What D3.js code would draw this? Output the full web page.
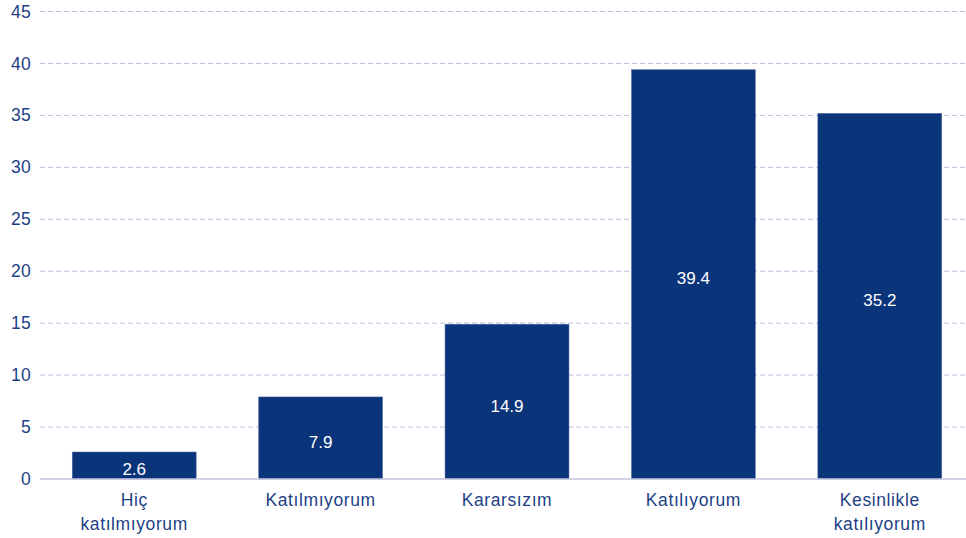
<!DOCTYPE html>
<html>
<head>
<meta charset="utf-8">
<script src="https://cdn.jsdelivr.net/npm/d3@7"></script>
<style>
  body { margin: 0; background: #fff; }
  svg { display: block; font-family: "Liberation Sans", Arial, sans-serif; }
</style>
</head>
<body>
<svg id="chart"></svg>
<script>
// chart data
const categories = ["Hiç katılmıyorum", "Katılmıyorum", "Kararsızım", "Katılıyorum", "Kesinlikle katılıyorum"];
const labelLines = [["Hiç", "katılmıyorum"], ["Katılmıyorum"], ["Kararsızım"], ["Katılıyorum"], ["Kesinlikle", "katılıyorum"]];
const values = [2.6, 7.9, 14.9, 39.4, 35.2];
const yTicks = [0, 5, 10, 15, 20, 25, 30, 35, 40, 45];

const width = 966, height = 538;
const barColor = "#0b357b";
const textColor = "#1e3f86";

const svg = d3.select("#chart")
    .attr("width", width)
    .attr("height", height);

const x = d3.scaleBand()
    .domain(categories)
    .range([41, 973])
    .paddingInner(0.335)
    .paddingOuter(0.1675);

const y = d3.scaleLinear()
    .domain([0, 45])
    .range([479, 11.5]);

// gridlines
svg.append("g")
    .selectAll("line")
    .data(yTicks.filter(d => d > 0))
    .join("line")
    .attr("x1", 40)
    .attr("x2", width)
    .attr("y1", d => y(d))
    .attr("y2", d => y(d))
    .attr("stroke", "#bdbde0")
    .attr("stroke-width", 1)
    .attr("stroke-dasharray", "5,3");

// y axis
const yAxis = svg.append("g")
    .attr("transform", "translate(40,0)")
    .call(d3.axisLeft(y).tickValues(yTicks).tickSize(0).tickPadding(9));
yAxis.select(".domain").remove();
yAxis.selectAll("text")
    .attr("fill", textColor)
    .attr("font-size", 17.5)
    .attr("letter-spacing", 0.3)
    .attr("font-family", "Liberation Sans, Arial, sans-serif");

// bars
svg.append("g")
    .selectAll("rect")
    .data(values)
    .join("rect")
    .attr("x", (d, i) => x(categories[i]))
    .attr("y", d => y(d))
    .attr("width", x.bandwidth())
    .attr("height", d => y(0) - y(d))
    .attr("fill", barColor)
    .attr("stroke", "#5a74a8")
    .attr("stroke-width", 0.5);

// value labels
svg.append("g")
    .selectAll("text")
    .data(values)
    .join("text")
    .attr("x", (d, i) => x(categories[i]) + x.bandwidth() / 2)
    .attr("y", d => (y(d) + y(0)) / 2 + 4)
    .attr("dy", "0.35em")
    .attr("text-anchor", "middle")
    .attr("fill", "#fff")
    .attr("font-size", 17)
    .text(d => d.toFixed(1));

// x axis line
svg.append("line")
    .attr("x1", 40)
    .attr("x2", width)
    .attr("y1", y(0))
    .attr("y2", y(0))
    .attr("stroke", "#c4c4dc")
    .attr("stroke-width", 1.5);

// category labels
const catLabels = svg.append("g")
    .selectAll("text")
    .data(categories)
    .join("text")
    .attr("x", d => x(d) + x.bandwidth() / 2)
    .attr("y", 506)
    .attr("text-anchor", "middle")
    .attr("fill", textColor)
    .attr("font-size", 17.5)
    .attr("letter-spacing", 0.6);

catLabels.selectAll("tspan")
    .data((d, i) => labelLines[i])
    .join("tspan")
    .attr("x", function() { return d3.select(this.parentNode).attr("x"); })
    .attr("dy", (d, i) => i === 0 ? 0 : 24)
    .text(d => d);
</script>
</body>
</html>
